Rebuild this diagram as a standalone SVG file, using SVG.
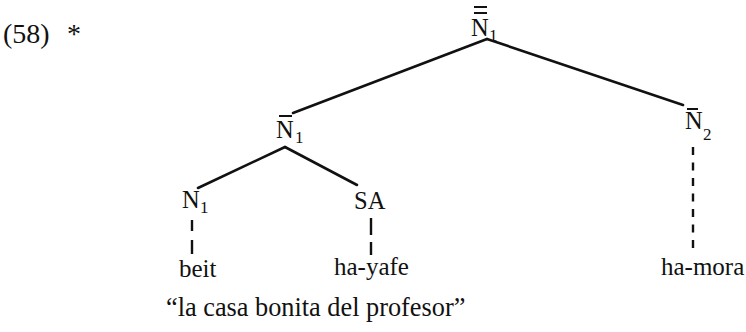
<svg xmlns="http://www.w3.org/2000/svg" width="746" height="332" viewBox="0 0 746 332">
<style>
text{font-family:"Liberation Serif","Times New Roman",serif;fill:#111}
.lab{font-size:24.5px}
.sub{font-size:17px}
.w{font-size:25px}
.edge{stroke:#111;stroke-width:2.6;stroke-linecap:round;fill:none}
.bar{stroke:#111;stroke-width:2;fill:none}
.dash{stroke:#111;stroke-width:2.4;fill:none}
</style>
<rect width="746" height="332" fill="#fff"/>
<g id="example-number">
<text x="3" y="43" style="font-size:28px">(58)</text>
<text x="67" y="43" style="font-size:28px">*</text>
</g>
<g id="connectors">
<line class="edge" x1="487" y1="39" x2="293" y2="113"/>
<line class="edge" x1="487" y1="39" x2="683" y2="105"/>
<line class="edge" x1="285" y1="147" x2="198" y2="188"/>
<line class="edge" x1="285" y1="147" x2="357" y2="185"/>
<line class="dash" x1="192" y1="220" x2="192" y2="231"/>
<line class="dash" x1="192" y1="240" x2="192" y2="254"/>
<line class="dash" x1="371" y1="218" x2="371" y2="235"/>
<line class="dash" x1="371" y1="242" x2="371" y2="255"/>
<line class="dash" x1="693" y1="147" x2="693" y2="252" stroke-dasharray="8 7.5"/>
</g>
<g id="node-N1-top">
<line class="bar" x1="474" y1="7" x2="487" y2="7"/>
<line class="bar" x1="474" y1="13" x2="487" y2="13"/>
<text class="lab" x="471" y="36">N</text>
<text class="sub" x="489" y="41">1</text>
</g>
<g id="node-N1-mid">
<line class="bar" x1="279" y1="116" x2="292" y2="116"/>
<text class="lab" x="276" y="138">N</text>
<text class="sub" x="295" y="143">1</text>
</g>
<g id="node-N2">
<line class="bar" x1="687" y1="109" x2="698" y2="109"/>
<text class="lab" x="685" y="129">N</text>
<text class="sub" x="703" y="140">2</text>
</g>
<g id="node-N1-low">
<text class="lab" x="182" y="208">N</text>
<text class="sub" x="200" y="213">1</text>
</g>
<g id="node-SA">
<text class="lab" x="354" y="209">SA</text>
</g>
<g id="word-beit">
<text class="w" x="179" y="277">beit</text>
</g>
<g id="word-ha-yafe">
<text class="w" x="334" y="275">ha-yafe</text>
</g>
<g id="word-ha-mora">
<text class="w" x="661" y="275">ha-mora</text>
</g>
<g id="gloss">
<text x="166" y="316" style="font-size:26.3px">“la casa bonita del profesor”</text>
</g>
</svg>
